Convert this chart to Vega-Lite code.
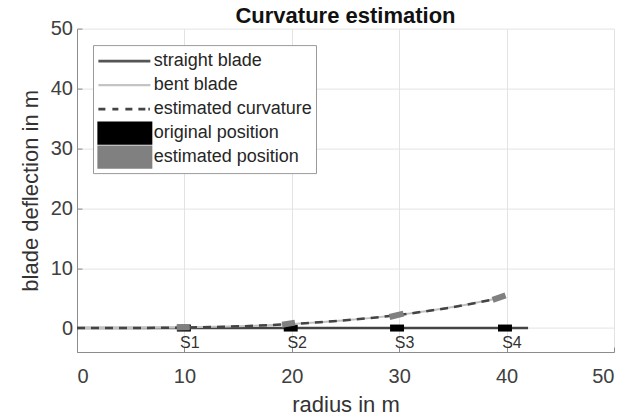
{
  "$schema": "https://vega.github.io/schema/vega-lite/v6.json",
  "width": 537,
  "height": 323.4,
  "autosize": {"type": "none"},
  "padding": {"left": 77, "top": 28.6, "right": 11, "bottom": 65},
  "background": "white",
  "title": {"text": "Curvature estimation", "fontSize": 22, "fontWeight": "bold", "font": "Liberation Sans", "color": "#111111", "anchor": "middle", "frame": "group", "baseline": "alphabetic", "offset": -26},
  "config": {
    "view": {"stroke": null},
    "font": "Liberation Sans",
    "axis": {
      "grid": true, "gridColor": "#e3e3e3", "gridWidth": 1,
      "domainColor": "#8c8c8c", "tickColor": "#8c8c8c", "tickSize": -5,
      "labelFont": "Liberation Sans", "labelFontSize": 20, "labelColor": "#404040",
      "titleFont": "Liberation Sans", "titleFontSize": 22, "titleFontWeight": "normal", "titleColor": "#333333"
    },
    "legend": {
      "orient": "none", "legendX": 16, "legendY": 16.5, "padding": 4,
      "symbolSize": 540, "symbolStrokeWidth": 0, "symbolOpacity": 1,
      "labelFont": "Liberation Sans", "labelFontSize": 18, "labelColor": "#262626", "labelOffset": 32.75,
      "rowPadding": 0, "strokeColor": "#9a9a9a", "fillColor": "white"
    }
  },
  "datasets": {
    "straight": [{"r": 0, "d": 0}, {"r": 42, "d": 0}],
    "curve": [
      {"r": 0, "d": 0}, {"r": 5, "d": 0.01}, {"r": 10, "d": 0.09}, {"r": 15, "d": 0.28},
      {"r": 20, "d": 0.67}, {"r": 25, "d": 1.3}, {"r": 30, "d": 2.2}, {"r": 35, "d": 3.5}, {"r": 39.5, "d": 5.05}
    ],
    "orig": [
      {"s": "S1", "r1": 9.3, "r2": 10.6, "d1": 0, "d2": 0},
      {"s": "S2", "r1": 19.25, "r2": 20.55, "d1": 0, "d2": 0},
      {"s": "S3", "r1": 29.15, "r2": 30.45, "d1": 0, "d2": 0},
      {"s": "S4", "r1": 39.2, "r2": 40.5, "d1": 0, "d2": 0}
    ],
    "est": [
      {"s": "S1", "r1": 9.3, "r2": 10.5, "d1": 0.08, "d2": 0.15},
      {"s": "S2", "r1": 19.1, "r2": 20.3, "d1": 0.55, "d2": 0.9},
      {"s": "S3", "r1": 29.1, "r2": 30.4, "d1": 1.85, "d2": 2.4},
      {"s": "S4", "r1": 38.7, "r2": 39.9, "d1": 4.7, "d2": 5.45}
    ],
    "labels": [
      {"s": "S1", "r": 10.5, "d": -2.5},
      {"s": "S2", "r": 20.5, "d": -2.5},
      {"s": "S3", "r": 30.5, "d": -2.5},
      {"s": "S4", "r": 40.5, "d": -2.5}
    ],
    "legend": [
      {"series": "straight blade"}, {"series": "bent blade"}, {"series": "estimated curvature"},
      {"series": "original position"}, {"series": "estimated position"}
    ]
  },
  "layer": [
    {
      "data": {"name": "straight"},
      "mark": {"type": "line", "color": "#444444", "strokeWidth": 2.5},
      "encoding": {
        "x": {"field": "r", "type": "quantitative", "scale": {"domain": [0, 50], "nice": false},
              "axis": {"values": [0, 10, 20, 30, 40, 50], "title": "radius in m", "labelPadding": 19, "titlePadding": 8}},
        "y": {"field": "d", "type": "quantitative", "scale": {"domain": [-4, 50], "nice": false, "zero": false},
              "axis": {"values": [0, 10, 20, 30, 40, 50], "title": "blade deflection in m", "labelPadding": 9.5, "titlePadding": 8}}
      }
    },
    {
      "data": {"name": "orig"},
      "mark": {"type": "rule", "color": "#000000", "strokeWidth": 7, "strokeCap": "butt"},
      "encoding": {
        "x": {"field": "r1", "type": "quantitative"}, "x2": {"field": "r2"},
        "y": {"field": "d1", "type": "quantitative"}, "y2": {"field": "d2"}
      }
    },
    {
      "data": {"name": "curve"},
      "mark": {"type": "line", "color": "#c0c0c0", "strokeWidth": 2, "interpolate": "monotone"},
      "encoding": {"x": {"field": "r", "type": "quantitative"}, "y": {"field": "d", "type": "quantitative"}}
    },
    {
      "data": {"name": "curve"},
      "mark": {"type": "line", "color": "#444444", "strokeWidth": 2.5, "strokeDash": [8, 6], "interpolate": "monotone"},
      "encoding": {"x": {"field": "r", "type": "quantitative"}, "y": {"field": "d", "type": "quantitative"}}
    },
    {
      "data": {"name": "est"},
      "mark": {"type": "rule", "color": "#808080", "strokeWidth": 6, "strokeCap": "butt"},
      "encoding": {
        "x": {"field": "r1", "type": "quantitative"}, "x2": {"field": "r2"},
        "y": {"field": "d1", "type": "quantitative"}, "y2": {"field": "d2"}
      }
    },
    {
      "data": {"name": "labels"},
      "mark": {"type": "text", "fontSize": 16, "color": "#333333", "align": "center", "baseline": "middle", "font": "Liberation Sans"},
      "encoding": {
        "x": {"field": "r", "type": "quantitative"}, "y": {"field": "d", "type": "quantitative"},
        "text": {"field": "s"}
      }
    },
    {
      "data": {"name": "legend"},
      "transform": [{"filter": "false"}],
      "mark": {"type": "point", "filled": true, "opacity": 1, "size": 540},
      "encoding": {
        "color": {"field": "series", "type": "nominal",
          "scale": {"domain": ["straight blade", "bent blade", "estimated curvature", "original position", "estimated position"],
                    "range": ["#555555", "#c4c4c4", "#444444", "#000000", "#808080"]},
          "legend": {"title": null}},
        "shape": {"field": "series", "type": "nominal",
          "scale": {"domain": ["straight blade", "bent blade", "estimated curvature", "original position", "estimated position"],
                    "range": [
                      "M-1,-1M3.73,1M-0.914,-0.116L3.559,-0.116L3.559,0.116L-0.914,0.116Z",
                      "M-1,-1M3.73,1M-0.914,-0.09L3.559,-0.09L3.559,0.09L-0.914,0.09Z",
                      "M-1,-1M3.73,1M-0.914,-0.116L-0.312,-0.116L-0.312,0.116L-0.914,0.116ZM0.29,-0.116L0.806,-0.116L0.806,0.116L0.29,0.116ZM1.409,-0.116L2.011,-0.116L2.011,0.116L1.409,0.116ZM2.527,-0.116L3.129,-0.116L3.129,0.116L2.527,0.116ZM3.387,-0.116L3.516,-0.116L3.516,0.116L3.387,0.116Z",
                      "M-1,-1L3.73,-1L3.73,1L-1,1Z",
                      "M-1,-1L3.73,-1L3.73,1L-1,1Z"
                    ]},
          "legend": {"title": null}}
      }
    }
  ]
}
